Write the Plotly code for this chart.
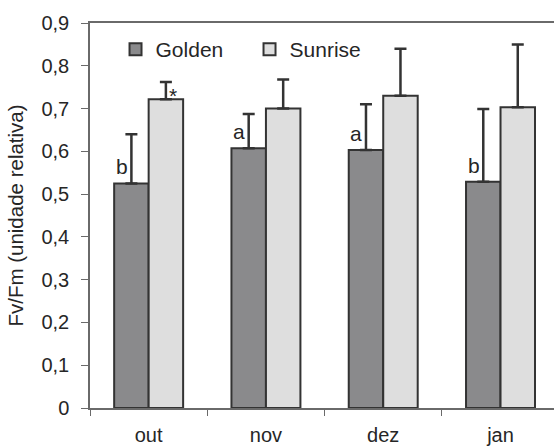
import plotly.graph_objects as go

months = ["out", "nov", "dez", "jan"]
golden = [0.525, 0.607, 0.603, 0.529]
golden_err = [0.115, 0.080, 0.107, 0.170]
sunrise = [0.722, 0.700, 0.730, 0.703]
sunrise_err = [0.040, 0.068, 0.110, 0.147]
golden_letters = ["b", "a", "a", "b"]
sunrise_marks = ["*", "", "", ""]

FONT = "Liberation Sans, Arial, sans-serif"
TXT = "#262626"
EDGE = "#333333"

fig = go.Figure()
fig.add_trace(go.Bar(
    name="Golden", x=months, y=golden,
    marker=dict(color="#8a8a8c", line=dict(color=EDGE, width=2)),
    error_y=dict(type="data", symmetric=False, array=golden_err,
                 arrayminus=[0] * len(golden), color=EDGE, thickness=2.5, width=6),
))
fig.add_trace(go.Bar(
    name="Sunrise", x=months, y=sunrise,
    marker=dict(color="#dedede", line=dict(color=EDGE, width=2)),
    error_y=dict(type="data", symmetric=False, array=sunrise_err,
                 arrayminus=[0] * len(sunrise), color=EDGE, thickness=2.5, width=6),
))

for m, v, t in zip(months, golden, golden_letters):
    if t:
        fig.add_annotation(x=m, y=v, text=t, showarrow=False, xref="x", yref="y",
                           xshift=-27, yanchor="bottom", yshift=3,
                           font=dict(family=FONT, size=21, color=TXT))
for m, v, t in zip(months, sunrise, sunrise_marks):
    if t:
        fig.add_annotation(x=m, y=v, text=t, showarrow=False, xref="x", yref="y",
                           xshift=24, yanchor="bottom", yshift=-10,
                           font=dict(family=FONT, size=21, color=TXT))

fig.update_layout(
    width=554, height=447,
    margin=dict(l=90, r=0, t=23, b=39),
    paper_bgcolor="white", plot_bgcolor="white",
    barmode="group", bargap=0.412, bargroupgap=0,
    separators=",.",
    font=dict(family=FONT, size=20, color=TXT),
    showlegend=True,
    legend=dict(orientation="h", x=0.055, y=0.931, xanchor="left", yanchor="middle",
                bgcolor="rgba(0,0,0,0)", font=dict(size=21, color=TXT),
                entrywidth=89, entrywidthmode="pixels"),
    xaxis=dict(range=[-0.5, 3.456], showline=True, linecolor="#6a6a6a", linewidth=1.5,
               mirror=True, ticks="outside", tickson="boundaries", ticklen=6,
               tickcolor="#6a6a6a", showgrid=False, tickfont=dict(size=20),
               ticklabelstandoff=8, automargin=False),
    yaxis=dict(range=[0, 0.9], dtick=0.1, tick0=0, showline=True, linecolor="#6a6a6a",
               linewidth=1.5, ticks="outside", ticklen=7, tickcolor="#6a6a6a",
               showgrid=False, zeroline=False, tickfont=dict(size=20),
               ticklabelstandoff=8, automargin=False,
               title=dict(text="Fv/Fm (unidade relativa)", font=dict(size=20.5), standoff=12)),
)

fig.write_html("out.html", post_script="document.body.style.margin='0';",
               config={"displayModeBar": False})
